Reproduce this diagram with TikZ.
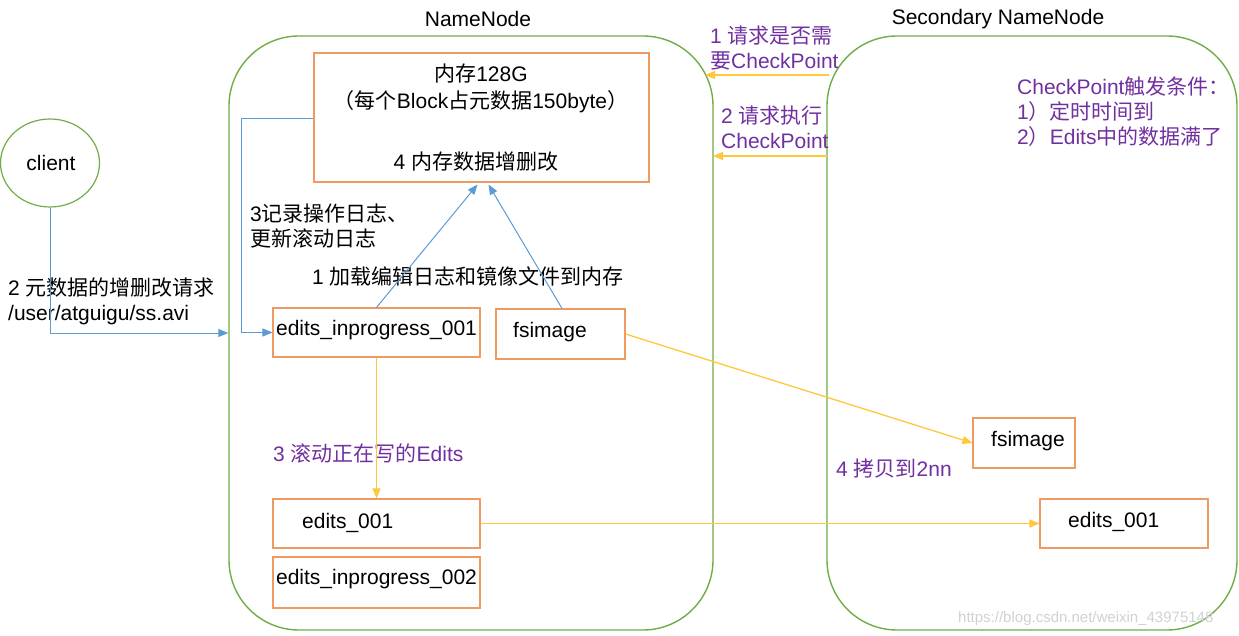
\documentclass[tikz,border=0pt]{standalone}
\usepackage{fontspec}
\setmainfont{Liberation Sans}
\newfontfamily\cjkfont{Noto Sans CJK SC}
\newcommand\zhc[1]{{\cjkfont #1}}
\usetikzlibrary{arrows.meta,shapes.geometric}
\definecolor{grn}{HTML}{70AD47}
\definecolor{org}{HTML}{EE9A62}
\definecolor{blu}{HTML}{5B9BD5}
\definecolor{ylw}{HTML}{FFC83A}
\definecolor{pur}{HTML}{7030A0}
\tikzset{
  txt/.style={font=\fontsize{21}{25}\selectfont, inner sep=0pt, align=left},
  ptxt/.style={txt, text=pur},
  container/.style={draw=grn, line width=1.4pt, rounded corners=70pt, inner sep=0pt},
  obox/.style={draw=org, line width=1.1pt, inner sep=0pt},
  barrow/.style={draw=blu, line width=1pt, -{Triangle[length=10pt,width=8pt]}},
  yarrow/.style={draw=ylw, line width=1.3pt, -{Triangle[length=10pt,width=8pt]}},
}
\begin{document}
\begin{tikzpicture}[x=1pt,y=-1pt]
\useasboundingbox (0,0) rectangle (1239,636);

% containers
\node[container, minimum width=484pt, minimum height=594pt] (nn) at (471,333) {};
\node[container, minimum width=410pt, minimum height=594pt] (snn) at (1032,333) {};
\node[txt, anchor=center] (nnlabel) at (478,19) {NameNode};
\node[txt, anchor=center] (snnlabel) at (998,19) {Secondary NameNode};

% client
\node[ellipse, draw=grn, line width=1.2pt, minimum width=99pt, minimum height=88pt, inner sep=0pt] (client) at (50,163) {};
\node[txt] (clientlabel) at (51,163) {client};

% memory box
\node[obox, minimum width=335pt, minimum height=129pt] (mem) at (481.5,117.5) {};
\node[txt] (m1) at (481,74) {\zhc{内存}128G};
\node[txt] (m2) at (481,102) {\zhc{（每个}Block\zhc{占元数据}150byte\zhc{）}};
\node[txt] (m3) at (476,162) {4 \zhc{内存数据增删改}};

% NameNode boxes
\node[obox, minimum width=207pt, minimum height=49pt] (eip1) at (376.5,332.5) {};
\node[txt] (eip1t) at (376.5,330) {edits\_inprogress\_001};
\node[obox, minimum width=129pt, minimum height=50pt] (fs1) at (560.5,334) {};
\node[txt, anchor=west] (fs1t) at (513,332) {fsimage};
\node[obox, minimum width=207pt, minimum height=49pt] (e1) at (376.5,523.5) {};
\node[txt, anchor=west] (e1t) at (302,523) {edits\_001};
\node[obox, minimum width=207pt, minimum height=51pt] (eip2) at (376.5,582.5) {};
\node[txt] (eip2t) at (376.5,579) {edits\_inprogress\_002};

% Secondary boxes
\node[obox, minimum width=102pt, minimum height=50pt] (fs2) at (1024,443) {};
\node[txt, anchor=west] (fs2t) at (991,441) {fsimage};
\node[obox, minimum width=168pt, minimum height=49pt] (e2) at (1124,523.5) {};
\node[txt, anchor=west] (e2t) at (1068,522) {edits\_001};

% labels
\node[txt, anchor=west] (lreq) at (8,301) {2 \zhc{元数据的增删改请求}\\/user/atguigu/ss.avi};
\node[txt, anchor=west] (llog) at (250,226.5) {3\zhc{记录操作日志、}\\\zhc{更新滚动日志}};
\node[txt, anchor=west] (lload) at (312,276) {1 \zhc{加载编辑日志和镜像文件到内存}};
\node[ptxt, anchor=west] (lroll) at (273,453) {3 \zhc{滚动正在写的}Edits};
\node[ptxt, anchor=west] (lcopy) at (836,469) {4 \zhc{拷贝到}2nn};
\node[ptxt, anchor=west] (lask) at (710,48) {1 \zhc{请求是否需}\\\zhc{要}CheckPoint};
\node[ptxt, anchor=west] (ldo) at (721,127) {2 \zhc{请求执行}\\CheckPoint};
\node[ptxt, anchor=west] (lcond) at (1017,112) {CheckPoint\zhc{触发条件：}\\1\zhc{）定时时间到}\\2\zhc{）}Edits\zhc{中的数据满了}};

% watermark
\node[font=\fontsize{15}{18}\selectfont, text=black!18, inner sep=0pt, anchor=west] (wm) at (958,619) {https://blog.csdn.net/weixin\_43975148};

% connector end points on curved borders
\coordinate (nnr1) at (705,75);
\coordinate (snnl1) at (829,75);
\coordinate (nnr2) at (713,156);
\coordinate (snnl2) at (827,156);
\coordinate (bend) at (241,119);

% connectors
\draw[barrow] (client.south) |- (nn.west);
\draw[barrow] (mem.west |- bend) -- (bend) |- (eip1.west);
\draw[barrow] (eip1.north) -- ([xshift=-4pt,yshift=-2pt]mem.south);
\draw[barrow] ([xshift=1.5pt]fs1.north) -- ([xshift=7pt,yshift=-2pt]mem.south);
\draw[yarrow] (eip1.south) -- (e1.north);
\draw[yarrow] (e1.east) -- (e2.west);
\draw[yarrow] (fs1.east) -- (fs2.west);
\draw[yarrow] (snnl1) -- (nnr1);
\draw[yarrow] (snnl2) -- (nnr2);
\end{tikzpicture}
\end{document}
